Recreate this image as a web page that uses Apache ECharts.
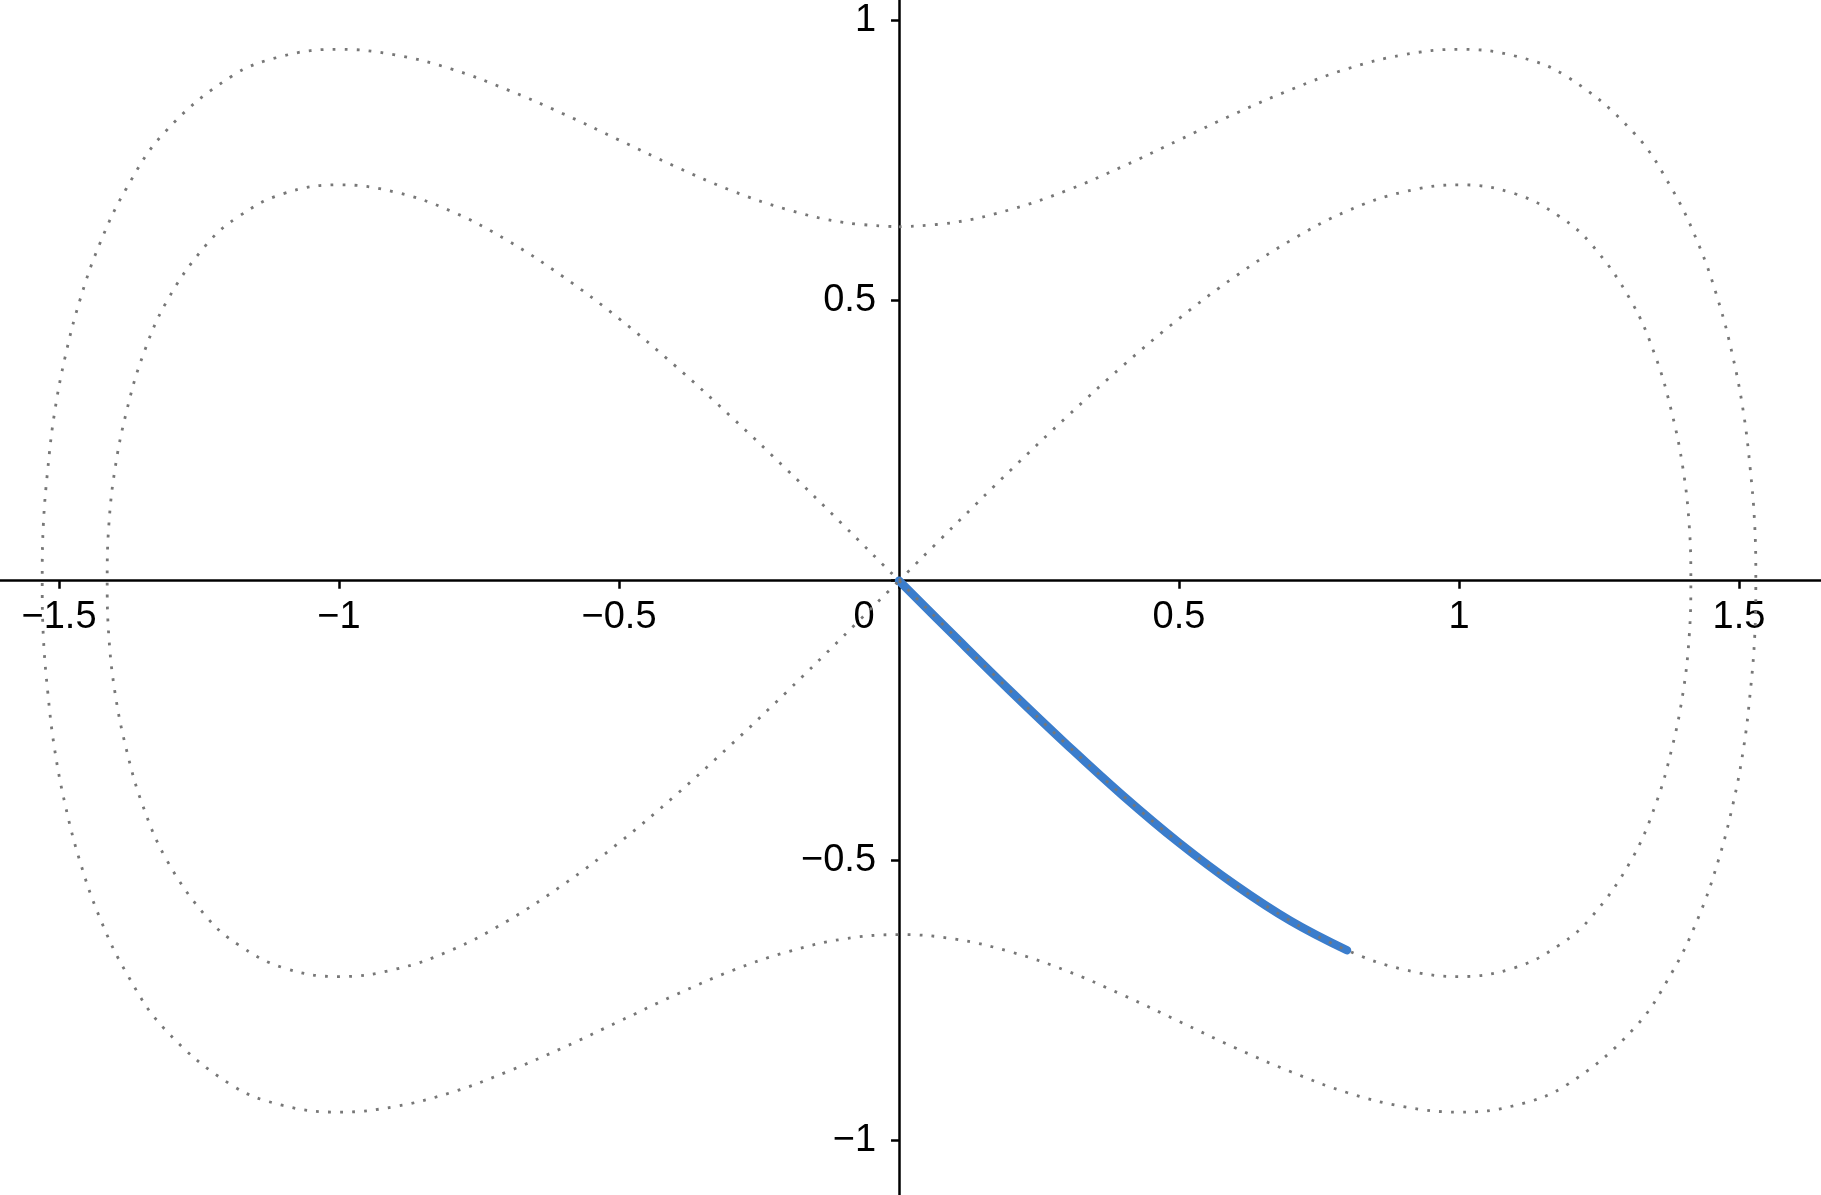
<!DOCTYPE html>
<html>
<head>
<meta charset="utf-8">
<title>phase portrait</title>
<script src="https://cdn.jsdelivr.net/npm/echarts@6/dist/echarts.min.js"></script>
<style>
  html, body { margin: 0; padding: 0; background: #fff; }
  #chart { width: 1821px; height: 1195px; }
</style>
</head>
<body>
<div id="chart"></div>
<script>
// inner curve (figure-eight through the origin), one quarter per array
const sepUpperRight = [[0,0],[0.1,0.0997],[0.2,0.198],[0.3,0.293],[0.4,0.384],[0.5,0.468],[0.6,0.543],[0.7,0.608],[0.8,0.66],[0.9,0.694],[1,0.707],[1.1,0.691],[1.18,0.65],[1.237,0.6],[1.307,0.5],[1.351,0.4],[1.38,0.3],[1.4,0.2],[1.411,0.1],[1.414,0]]
const sepLowerRight = [[1.414,0],[1.411,-0.1],[1.4,-0.2],[1.38,-0.3],[1.351,-0.4],[1.307,-0.5],[1.237,-0.6],[1.18,-0.65],[1.1,-0.691],[1,-0.707],[0.9,-0.694],[0.8,-0.66],[0.7,-0.608],[0.6,-0.543],[0.5,-0.468],[0.4,-0.384],[0.3,-0.293],[0.2,-0.198],[0.1,-0.0997],[0,0]]
const sepUpperLeft = [[0,0],[-0.1,0.0997],[-0.2,0.198],[-0.3,0.293],[-0.4,0.384],[-0.5,0.468],[-0.6,0.543],[-0.7,0.608],[-0.8,0.66],[-0.9,0.694],[-1,0.707],[-1.1,0.691],[-1.18,0.65],[-1.237,0.6],[-1.307,0.5],[-1.351,0.4],[-1.38,0.3],[-1.4,0.2],[-1.411,0.1],[-1.414,0]]
const sepLowerLeft = [[-1.414,0],[-1.411,-0.1],[-1.4,-0.2],[-1.38,-0.3],[-1.351,-0.4],[-1.307,-0.5],[-1.237,-0.6],[-1.18,-0.65],[-1.1,-0.691],[-1,-0.707],[-0.9,-0.694],[-0.8,-0.66],[-0.7,-0.608],[-0.6,-0.543],[-0.5,-0.468],[-0.4,-0.384],[-0.3,-0.293],[-0.2,-0.198],[-0.1,-0.0997],[0,0]]

// outer closed curve
const outerUpperRight = [[0,0.632],[0.1,0.64],[0.2,0.663],[0.3,0.697],[0.4,0.74],[0.5,0.787],[0.6,0.834],[0.7,0.877],[0.8,0.914],[0.9,0.939],[1,0.949],[1.1,0.937],[1.193,0.9],[1.312,0.8],[1.38,0.7],[1.428,0.6],[1.463,0.5],[1.489,0.4],[1.508,0.3],[1.52,0.2],[1.528,0.1],[1.53,0]]
const outerLowerRight = [[1.53,0],[1.528,-0.1],[1.52,-0.2],[1.508,-0.3],[1.489,-0.4],[1.463,-0.5],[1.428,-0.6],[1.38,-0.7],[1.312,-0.8],[1.193,-0.9],[1.1,-0.937],[1,-0.949],[0.9,-0.939],[0.8,-0.914],[0.7,-0.877],[0.6,-0.834],[0.5,-0.787],[0.4,-0.74],[0.3,-0.697],[0.2,-0.663],[0.1,-0.64],[0,-0.632]]
const outerLowerLeft = [[0,-0.632],[-0.1,-0.64],[-0.2,-0.663],[-0.3,-0.697],[-0.4,-0.74],[-0.5,-0.787],[-0.6,-0.834],[-0.7,-0.877],[-0.8,-0.914],[-0.9,-0.939],[-1,-0.949],[-1.1,-0.937],[-1.193,-0.9],[-1.312,-0.8],[-1.38,-0.7],[-1.428,-0.6],[-1.463,-0.5],[-1.489,-0.4],[-1.508,-0.3],[-1.52,-0.2],[-1.528,-0.1],[-1.53,0]]
const outerUpperLeft = [[-1.53,0],[-1.528,0.1],[-1.52,0.2],[-1.508,0.3],[-1.489,0.4],[-1.463,0.5],[-1.428,0.6],[-1.38,0.7],[-1.312,0.8],[-1.193,0.9],[-1.1,0.937],[-1,0.949],[-0.9,0.939],[-0.8,0.914],[-0.7,0.877],[-0.6,0.834],[-0.5,0.787],[-0.4,0.74],[-0.3,0.697],[-0.2,0.663],[-0.1,0.64],[0,0.632]]

// blue trajectory
const trajectory = [[0,0],[0.1,-0.0997],[0.2,-0.198],[0.3,-0.293],[0.4,-0.384],[0.5,-0.468],[0.6,-0.543],[0.7,-0.608],[0.8,-0.66]]

const xRange = [-1.6054, 1.6464]
const yRange = [-1.097, 1.037]

const innerCurve = [...sepUpperRight, ...sepLowerRight, ...sepUpperLeft, ...sepLowerLeft]
const outerCurve = [...outerUpperRight, ...outerLowerRight, ...outerLowerLeft, ...outerUpperLeft]

const W = 1821, H = 1195
// move the axes from the grid edges onto the origin
const xAxisShift = -H * (0 - yRange[0]) / (yRange[1] - yRange[0])
const yAxisShift = -W * (0 - xRange[0]) / (xRange[1] - xRange[0])

const fontFam = '"Liberation Sans", Arial, sans-serif'
const fmt = v => String(v).replace('-', '\u2212')

let mychart = echarts.init(document.getElementById('chart'))
mychart.setOption({
  animation: false,
  grid: { left: 0, right: 0, top: 0, bottom: 0, containLabel: false, outerBoundsMode: 'none' },
  xAxis: {
    type: 'value',
    position: 'bottom',
    offset: xAxisShift,
    min: xRange[0],
    max: xRange[1],
    splitNumber: 5,
    splitLine: { show: false },
    axisLine: { onZero: false, lineStyle: { color: '#000', width: 2.5 } },
    axisTick: { show: true, length: 8, lineStyle: { color: '#000', width: 2.5 } },
    axisLabel: {
      showMinLabel: false,
      showMaxLabel: false,
      margin: 18,
      color: '#000',
      fontSize: 38,
      fontFamily: fontFam,
      formatter: v => (v === 0 ? '{z|0}' : fmt(v)),
      rich: { z: { fontSize: 38, fontFamily: fontFam, color: '#000', padding: [0, 70, 0, 0] } },
    },
  },
  yAxis: {
    type: 'value',
    position: 'left',
    offset: yAxisShift,
    min: yRange[0],
    max: yRange[1],
    splitNumber: 5,
    splitLine: { show: false },
    axisLine: { onZero: false, lineStyle: { color: '#000', width: 2.5 } },
    axisTick: { show: true, length: 8, lineStyle: { color: '#000', width: 2.5 } },
    axisLabel: {
      showMinLabel: false,
      showMaxLabel: false,
      margin: 23,
      color: '#000',
      fontSize: 38,
      fontFamily: fontFam,
      formatter: v => (v === 0 ? '' : fmt(v)),
    },
  },
  series: [
    {
      type: 'line',
      data: trajectory,
      smooth: 0.4,
      showSymbol: false,
      lineStyle: { color: '#3b7dcc', width: 8.5, cap: 'round' },
      z: 2,
    },
    {
      type: 'line',
      data: outerCurve,
      smooth: 0.4,
      showSymbol: false,
      lineStyle: { color: '#777', width: 2.8, type: [2.8, 9.2] },
      z: 3,
    },
    {
      type: 'line',
      data: innerCurve,
      smooth: 0.4,
      showSymbol: false,
      lineStyle: { color: '#777', width: 2.8, type: [2.8, 9.2] },
      z: 3,
    },
  ],
})
</script>
</body>
</html>
